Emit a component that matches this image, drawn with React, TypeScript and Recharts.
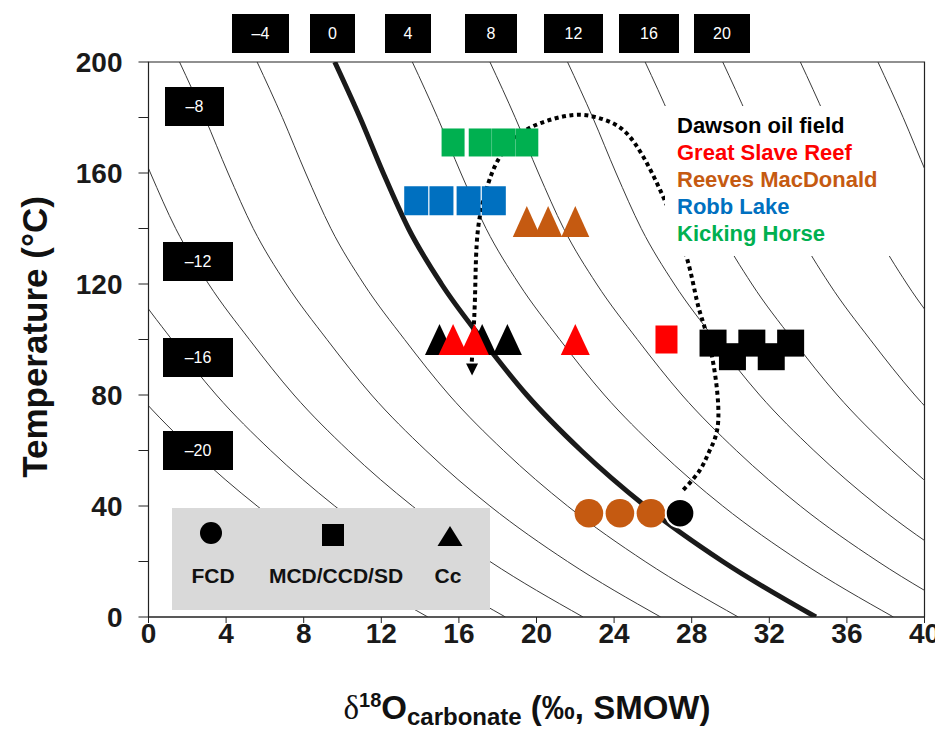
import React from "react";
import { ComposedChart, Line, Scatter, XAxis, YAxis, ReferenceArea } from "recharts";

const temps = [200, 180, 160, 140, 120, 100, 80, 60, 40, 20, 0];

// δ18O carbonate (‰ SMOW) along each water isoline, one value per temp above
const waterM20 = [-10.4, -9.1, -7.9, -6.6, -4.9, -2.8, -0.5, 2.3, 5.6, 9.6, 14.4];
const waterM16 = [-6.4, -5.1, -3.9, -2.6, -0.9, 1.2, 3.5, 6.3, 9.6, 13.6, 18.4];
const waterM12 = [-2.4, -1.1, 0.1, 1.4, 3.1, 5.2, 7.5, 10.3, 13.6, 17.6, 22.4];
const waterM8 = [1.6, 2.9, 4.1, 5.4, 7.1, 9.2, 11.5, 14.3, 17.6, 21.6, 26.4];
const waterM4 = [5.6, 6.9, 8.1, 9.4, 11.1, 13.2, 15.5, 18.3, 21.6, 25.6, 30.4];
const seawater = [9.6, 10.9, 12.1, 13.4, 15.1, 17.2, 19.5, 22.3, 25.6, 29.6, 34.4];
const waterP4 = [13.6, 14.9, 16.1, 17.4, 19.1, 21.2, 23.5, 26.3, 29.6, 33.6, 38.4];
const waterP8 = [17.6, 18.9, 20.1, 21.4, 23.1, 25.2, 27.5, 30.3, 33.6, 37.6, 42.4];
const waterP12 = [21.6, 22.9, 24.1, 25.4, 27.1, 29.2, 31.5, 34.3, 37.6, 41.6, 46.4];
const waterP16 = [25.6, 26.9, 28.1, 29.4, 31.1, 33.2, 35.5, 38.3, 41.6, 45.6, 50.4];
const waterP20 = [29.6, 30.9, 32.1, 33.4, 35.1, 37.2, 39.5, 42.3, 45.6, 49.6, 54.4];
const waterP24 = [33.6, 34.9, 36.1, 37.4, 39.1, 41.2, 43.5, 46.3, 49.6, 53.6, 58.4];
const waterP28 = [37.6, 38.9, 40.1, 41.4, 43.1, 45.2, 47.5, 50.3, 53.6, 57.6, 62.4];

// samples: δ18O and temperature
const kickingHorseD = [15.7, 17.1, 18.3, 19.5];
const kickingHorseT = [171, 171, 171, 171];
const robbLakeD = [13.8, 15.1, 16.5, 17.8];
const robbLakeT = [150, 150, 150, 150];
const reevesCcD = [19.5, 20.6, 22.0];
const reevesCcT = [142.5, 142.5, 142.5];
const reevesFcdD = [22.7, 24.3, 25.9];
const reevesFcdT = [37.4, 37.4, 37.4];
const dawsonCcD = [15.0, 17.2, 18.5];
const dawsonCcT = [100, 100, 100];
const slaveCcD = [15.7, 16.8, 22.0];
const slaveCcT = [100, 100, 100];
const slaveMcdD = [26.7];
const slaveMcdT = [100];
const dawsonMcdD = [29.1, 31.1, 33.1, 30.1, 32.1];
const dawsonMcdT = [98.7, 98.7, 98.7, 93.8, 93.8];
const dawsonFcdD = [27.4];
const dawsonFcdT = [37.4];

// dotted evolution path (ends at arrow)
const pathD = [27.57, 28.43, 28.94, 29.37, 29.11, 28.6, 28.26, 27.81, 27.14, 26.37, 25.5, 24.47, 23.27, 21.9, 20.18, 18.98, 18.12, 17.52, 16.98, 16.83, 16.66];
const pathT = [45.8, 53.0, 60.2, 71.0, 91.5, 105.9, 114.2, 127.9, 141.3, 153.9, 165.9, 175.5, 179.7, 180.9, 177.9, 173.1, 165.9, 156.4, 139.5, 115.3, 91.5];
const arrowD = [16.68];
const arrowT = [89.2];

const xTicks = [0, 4, 8, 12, 16, 20, 24, 28, 32, 36, 40];
const yTicks = [0, 20, 40, 60, 80, 100, 120, 140, 160, 180, 200];
const yLabelled = [0, 40, 80, 120, 160, 200];

const topLabels = ["–4", "0", "4", "8", "12", "16", "20"];
const leftLabels = ["–8", "–12", "–16", "–20"];
const legendNames = ["Dawson oil field", "Great Slave Reef", "Reeves MacDonald", "Robb Lake", "Kicking Horse"];
const legendColors = ["#000000", "#ff0000", "#c55a11", "#0070c0", "#00b050"];
const symbolNames = ["FCD", "MCD/CCD/SD", "Cc"];

const FONT = "'Liberation Sans', Arial, sans-serif";
const W = 935;
const H = 735;

const toPts = (xs: number[], ys: number[]) => xs.map((x, i) => ({ x, y: ys[i] }));
const isoPts = (xs: number[]) => toPts(xs, temps);

const isolines = [waterM20, waterM16, waterM12, waterM8, waterM4, waterP4, waterP8, waterP12, waterP16, waterP20, waterP24, waterP28];

const rectShape = (w: number, h: number, fill: string) => (p: any) => (
  <rect x={p.cx - w / 2} y={p.cy - h / 2} width={w} height={h} fill={fill} />
);
const triShape = (w: number, h: number, fill: string) => (p: any) => (
  <polygon
    points={`${p.cx},${p.cy - h / 2} ${p.cx - w / 2},${p.cy + h / 2} ${p.cx + w / 2},${p.cy + h / 2}`}
    fill={fill}
  />
);
const downTri = (w: number, h: number) => (p: any) => (
  <polygon
    points={`${p.cx - w / 2},${p.cy - h / 2} ${p.cx + w / 2},${p.cy - h / 2} ${p.cx},${p.cy + h / 2}`}
    fill="#000"
  />
);
const circShape = (r: number, fill: string, stroke?: string) => (p: any) => (
  <circle cx={p.cx} cy={p.cy} r={r} fill={fill} stroke={stroke ?? "none"} strokeWidth={stroke ? 2 : 0} />
);

// box placement (px) for the isoline labels
const topBoxes = [
  [232, 57], [310, 45], [385, 46], [465, 52], [544, 59], [619, 60], [694, 56],
];
const leftBoxes = [
  [165, 87, 59], [163, 242, 70], [163, 338, 70], [163, 431, 70],
];

export default function App() {
  const tickStyle = { fontSize: 28, fontWeight: 700, fill: "#1a1a1a", fontFamily: FONT };
  const box = (left: number, top: number, w: number, h: number, text: string, k: string) => (
    <div
      key={k}
      style={{
        position: "absolute", left, top, width: w, height: h, background: "#000", color: "#fff",
        fontSize: 16, display: "flex", alignItems: "center", justifyContent: "center",
      }}
    >
      {text}
    </div>
  );

  return (
    <div style={{ position: "absolute", left: 0, top: 0, width: W, height: H, background: "#fff", fontFamily: FONT, overflow: "hidden" }}>
      <ComposedChart width={W} height={H} margin={{ top: 62, right: 10.5, bottom: 68, left: 88.5 }}>
        <XAxis
          type="number" dataKey="x" domain={[0, 40]} ticks={xTicks} interval={0} allowDataOverflow
          tickSize={6} tickMargin={0} tick={tickStyle} stroke="#222" height={50}
        />
        <YAxis
          type="number" dataKey="y" domain={[0, 200]} ticks={yTicks} interval={0} allowDataOverflow
          tickFormatter={(v: number) => (yLabelled.includes(v) ? String(v) : "")}
          width={60} tickSize={10} tickMargin={16} tick={tickStyle} stroke="#222"
        />
        {isolines.map((xs, i) => (
          <Line
            key={`iso${i}`} data={isoPts(xs)} dataKey="y" type="monotone" stroke="#3a3a3a"
            strokeWidth={1} dot={false} isAnimationActive={false}
          />
        ))}
        <Line data={isoPts(seawater)} dataKey="y" type="monotone" stroke="#1a1a1a" strokeWidth={5} dot={false} isAnimationActive={false} />
        <ReferenceArea x1={0} x2={40} y1={0} y2={200} fill="none" fillOpacity={0} stroke="#222" strokeWidth={1.2} />

        <Scatter data={toPts(kickingHorseD, kickingHorseT)} shape={rectShape(23, 28, "#00b050")} isAnimationActive={false} />
        <Scatter data={toPts(robbLakeD, robbLakeT)} shape={rectShape(24, 29, "#0070c0")} isAnimationActive={false} />
        <Scatter data={toPts(reevesCcD, reevesCcT)} shape={triShape(28, 31, "#c55a11")} isAnimationActive={false} />
        <Scatter data={toPts(dawsonCcD, dawsonCcT)} shape={triShape(29, 31, "#000")} isAnimationActive={false} />
        <Scatter data={toPts(slaveCcD, slaveCcT)} shape={triShape(29, 31, "#ff0000")} isAnimationActive={false} />
        <Scatter data={toPts(slaveMcdD, slaveMcdT)} shape={rectShape(22, 28, "#ff0000")} isAnimationActive={false} />
        <Scatter data={toPts(dawsonMcdD, dawsonMcdT)} shape={rectShape(27, 27, "#000")} isAnimationActive={false} />
        <Scatter data={toPts(reevesFcdD, reevesFcdT)} shape={circShape(14.3, "#c55a11")} isAnimationActive={false} />
        <Scatter data={toPts(dawsonFcdD, dawsonFcdT)} shape={circShape(14.3, "#000", "#fff")} isAnimationActive={false} />

        <Line
          data={toPts(pathD, pathT)} dataKey="y" type="natural" stroke="#000" strokeWidth={4}
          strokeDasharray="4 3.5" dot={false} isAnimationActive={false}
        />
        <Scatter data={toPts(arrowD, arrowT)} shape={downTri(12, 12)} isAnimationActive={false} />
      </ComposedChart>

      {topLabels.map((t, i) => box(topBoxes[i][0], 14, topBoxes[i][1], 39, t, `t${i}`))}
      {leftLabels.map((t, i) => box(leftBoxes[i][0], leftBoxes[i][1], leftBoxes[i][2], 39, t, `l${i}`))}

      {/* site legend */}
      <div style={{ position: "absolute", left: 665, top: 106, width: 225, height: 150, background: "#fff" }}>
        {legendNames.map((n, i) => (
          <div key={n} style={{ position: "absolute", left: 12, top: 7 + i * 27, fontSize: 22, fontWeight: 700, color: legendColors[i], whiteSpace: "nowrap", lineHeight: "26px" }}>
            {n}
          </div>
        ))}
      </div>

      {/* symbol legend */}
      <div style={{ position: "absolute", left: 172, top: 508, width: 318, height: 102, background: "#d9d9d9" }}>
        <svg width={318} height={102} style={{ position: "absolute", left: 0, top: 0 }}>
          <circle cx={39} cy={25} r={11} fill="#000" />
          <rect x={150} y={16} width={22} height={22} fill="#000" />
          <polygon points="278,18 265.5,38 290.5,38" fill="#000" />
        </svg>
        {symbolNames.map((n, i) => (
          <div key={n} style={{ position: "absolute", left: [41, 164, 276][i], top: 56, transform: "translateX(-50%)", fontSize: 21, fontWeight: 700, color: "#111", whiteSpace: "nowrap" }}>
            {n}
          </div>
        ))}
      </div>

      {/* axis titles */}
      <div style={{ position: "absolute", left: 35, top: 337, transform: "translate(-50%, -50%) rotate(-90deg)", fontSize: 35, fontWeight: 700, color: "#111", whiteSpace: "nowrap" }}>
        Temperature (°C)
      </div>
      <div style={{ position: "absolute", left: 527, top: 690, transform: "translateX(-50%)", fontSize: 33, fontWeight: 700, color: "#111", whiteSpace: "nowrap", lineHeight: "36px", height: 42 }}>
        <span style={{ fontFamily: "'Liberation Serif', serif", fontWeight: 400 }}>δ</span>
        <span style={{ fontSize: 20, position: "relative", top: -12 }}>18</span>
        O
        <span style={{ fontSize: 24, position: "relative", top: 6 }}>carbonate</span>
        {" (‰, SMOW)"}
      </div>
    </div>
  );
}
